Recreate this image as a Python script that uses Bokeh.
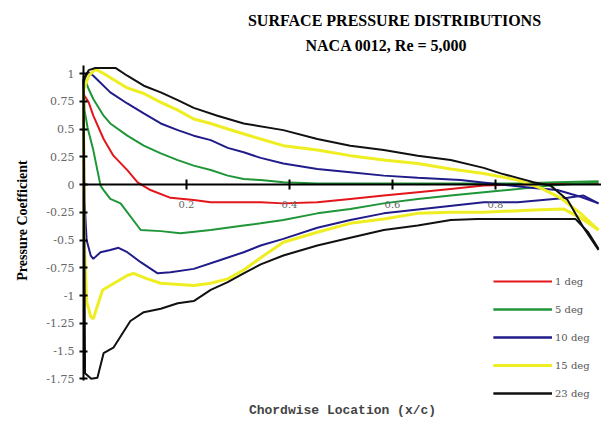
import math
from bokeh.plotting import figure
from bokeh.models import FixedTicker, Legend, LegendItem, Range1d, Label
from bokeh.embed import file_html
from bokeh.resources import INLINE

# ---------------- data ----------------
title_main = "SURFACE PRESSURE DISTRIBUTIONS"
title_sub = "NACA 0012, Re = 5,000"
x_title = "Chordwise Location (x/c)"
y_title = "Pressure Coefficient"

x_ticks = [0.2, 0.4, 0.6, 0.8]
x_tick_labels = ["0.2", "0.4", "0.6", "0.8"]
y_ticks = [1, 0.75, 0.5, 0.25, 0, -0.25, -0.5, -0.75, -1, -1.25, -1.5, -1.75]
y_tick_labels = ["1", "0.75", "0.5", "0.25", "0", "-0.25", "-0.5", "-0.75", "-1", "-1.25", "-1.5", "-1.75"]

series_names = ["1 deg", "5 deg", "10 deg", "15 deg", "23 deg"]

# 1 deg (both surfaces coincide)
red_x = [0.0, 0.002, 0.01, 0.019, 0.039, 0.058, 0.085, 0.105, 0.13, 0.169, 0.214, 0.247, 0.344, 0.388,
         0.454, 0.518, 0.583, 0.649, 0.713, 0.777, 0.849, 0.926, 1.0]
red_cp = [0.75, 0.80, 0.74, 0.62, 0.41, 0.26, 0.13, 0.02, -0.05, -0.12, -0.14, -0.16, -0.16, -0.17,
          -0.16, -0.13, -0.10, -0.07, -0.04, -0.01, 0.0, 0.01, 0.01]

# 5 deg
green_p_x = [0.0, 0.01, 0.019, 0.039, 0.052, 0.085, 0.117, 0.15, 0.183, 0.214, 0.247, 0.28, 0.311,
             0.344, 0.388, 0.454, 0.55, 0.65, 0.75, 0.843, 0.92, 1.0]
green_p_cp = [0.98, 0.86, 0.77, 0.62, 0.55, 0.44, 0.35, 0.28, 0.22, 0.17, 0.13, 0.08, 0.05,
              0.04, 0.02, 0.01, 0.01, 0.01, 0.01, 0.01, 0.02, 0.03]
green_s_x = [0.0, 0.002, 0.008, 0.019, 0.033, 0.039, 0.052, 0.072, 0.111, 0.15, 0.188, 0.247, 0.311,
             0.344, 0.388, 0.454, 0.518, 0.583, 0.649, 0.713, 0.777, 0.843, 0.907, 1.0]
green_s_cp = [0.98, 0.67, 0.51, 0.31, -0.01, -0.05, -0.13, -0.17, -0.41, -0.42, -0.44, -0.41, -0.37,
              -0.35, -0.32, -0.26, -0.22, -0.17, -0.13, -0.10, -0.07, -0.04, -0.01, 0.02]

# 10 deg
blue_p_x = [0.0, 0.01, 0.019, 0.052, 0.085, 0.117, 0.15, 0.183, 0.214, 0.247, 0.28, 0.311, 0.344,
            0.388, 0.454, 0.518, 0.583, 0.649, 0.732, 0.81, 0.868, 0.92, 0.965, 1.0]
blue_p_cp = [0.94, 1.01, 0.98, 0.83, 0.73, 0.64, 0.55, 0.49, 0.44, 0.40, 0.33, 0.29, 0.24,
             0.19, 0.14, 0.11, 0.08, 0.06, 0.04, 0.00, -0.03, -0.05, -0.11, -0.17]
blue_s_x = [0.0, 0.002, 0.006, 0.014, 0.019, 0.033, 0.052, 0.068, 0.085, 0.111, 0.144, 0.169, 0.214,
            0.266, 0.311, 0.344, 0.388, 0.454, 0.518, 0.583, 0.68, 0.777, 0.843, 0.94, 0.971, 1.0]
blue_s_cp = [0.94, -0.15, -0.50, -0.64, -0.67, -0.61, -0.59, -0.57, -0.61, -0.70, -0.80, -0.79, -0.76,
             -0.68, -0.61, -0.55, -0.49, -0.39, -0.32, -0.26, -0.21, -0.16, -0.16, -0.12, -0.10, -0.17]

# 15 deg
yellow_p_x = [0.0, 0.01, 0.023, 0.039, 0.085, 0.117, 0.15, 0.183, 0.214, 0.247, 0.28, 0.344, 0.388,
              0.454, 0.518, 0.583, 0.649, 0.713, 0.777, 0.843, 0.887, 0.926, 0.965, 1.0]
yellow_p_cp = [0.85, 0.98, 1.04, 1.00, 0.87, 0.82, 0.74, 0.67, 0.59, 0.55, 0.50, 0.41, 0.35,
               0.31, 0.26, 0.22, 0.19, 0.14, 0.10, 0.04, -0.03, -0.12, -0.26, -0.41]
yellow_s_x = [0.0, 0.001, 0.006, 0.014, 0.019, 0.037, 0.052, 0.085, 0.097, 0.124, 0.15, 0.214, 0.247,
              0.28, 0.311, 0.344, 0.388, 0.454, 0.518, 0.583, 0.649, 0.713, 0.777, 0.874, 0.932, 0.965, 1.0]
yellow_s_cp = [0.85, -0.44, -1.05, -1.19, -1.21, -0.95, -0.91, -0.82, -0.80, -0.85, -0.89, -0.91, -0.89,
               -0.85, -0.77, -0.66, -0.52, -0.43, -0.35, -0.31, -0.26, -0.25, -0.25, -0.23, -0.22, -0.30, -0.41]

# 23 deg
black_p_x = [0.0, 0.01, 0.023, 0.062, 0.085, 0.117, 0.15, 0.183, 0.214, 0.26, 0.311, 0.388, 0.454,
             0.518, 0.583, 0.649, 0.713, 0.777, 0.81, 0.843, 0.874, 0.907, 0.94, 0.971, 1.0]
black_p_cp = [0.95, 1.03, 1.05, 1.05, 0.98, 0.89, 0.83, 0.76, 0.69, 0.62, 0.55, 0.49, 0.41,
              0.35, 0.31, 0.26, 0.22, 0.15, 0.10, 0.06, 0.02, -0.01, -0.14, -0.39, -0.59]
black_s_x = [0.0, 0.003, 0.015, 0.027, 0.039, 0.058, 0.091, 0.117, 0.15, 0.183, 0.214, 0.247, 0.28,
             0.311, 0.344, 0.388, 0.454, 0.518, 0.583, 0.649, 0.713, 0.765, 0.887, 0.955, 0.98, 1.0]
black_s_cp = [0.95, -1.70, -1.75, -1.74, -1.52, -1.47, -1.23, -1.15, -1.12, -1.07, -1.05, -0.95, -0.88,
              -0.80, -0.72, -0.64, -0.55, -0.48, -0.41, -0.37, -0.32, -0.31, -0.31, -0.31, -0.43, -0.58]

# ---------------- figure ----------------
W, H = 601, 422

p = figure(width=W, height=H, output_backend="svg", toolbar_location=None, title=None,
           x_range=Range1d(-0.1612, 1.0058), y_range=Range1d(-2.1441, 1.6577),
           min_border_left=0, min_border_right=0, min_border_top=0, min_border_bottom=0)
p.grid.visible = False
p.outline_line_color = None
p.background_fill_color = "white"
p.border_fill_color = "white"

xa = p.xaxis[0]
xa.fixed_location = 0
xa.ticker = FixedTicker(ticks=x_ticks)
xa.major_label_overrides = {t: s for t, s in zip(x_ticks, x_tick_labels)}
xa.bounds = (0, 1.006)
xa.axis_line_width = 2
xa.axis_line_color = "black"
xa.major_tick_in = 5
xa.major_tick_out = 5
xa.major_tick_line_width = 2
xa.minor_tick_line_color = None
xa.major_label_standoff = 11
xa.major_label_text_font = "DejaVu Serif"
xa.major_label_text_font_size = "10px"
xa.major_label_text_color = "#666666"

ya = p.yaxis[0]
ya.fixed_location = 0
ya.ticker = FixedTicker(ticks=y_ticks)
ya.major_label_overrides = {t: s for t, s in zip(y_ticks, y_tick_labels)}
ya.bounds = (-1.77, 1.07)
ya.axis_line_width = 2
ya.axis_line_color = "black"
ya.major_tick_in = 4
ya.major_tick_out = 4
ya.major_tick_line_width = 2
ya.minor_tick_line_color = None
ya.major_label_standoff = 5
ya.major_label_text_font = "DejaVu Serif"
ya.major_label_text_font_size = "11px"
ya.major_label_text_color = "#666666"

colors = ["#e3161b", "#1f9638", "#211c8a", "#eeee22", "#111111"]
widths = [2, 2, 2, 3, 2]
curves = [
    [(red_x, red_cp)],
    [(green_p_x, green_p_cp), (green_s_x, green_s_cp)],
    [(blue_p_x, blue_p_cp), (blue_s_x, blue_s_cp)],
    [(yellow_p_x, yellow_p_cp), (yellow_s_x, yellow_s_cp)],
    [(black_p_x, black_p_cp), (black_s_x, black_s_cp)],
]

items = []
for name, col, w, surfaces in zip(series_names, colors, widths, curves):
    rs = [p.line(xs, ys, line_color=col, line_width=w) for xs, ys in surfaces]
    items.append(LegendItem(label=name, renderers=rs))

legend = Legend(items=items, location=(493, 19), background_fill_alpha=0, border_line_color=None,
                glyph_width=59, glyph_height=20, spacing=8, padding=0, margin=0, label_standoff=3,
                label_text_font="DejaVu Serif", label_text_font_size="10px",
                label_text_color="#555555", label_height=20)
p.add_layout(legend)

def add_text(text, px, py, size, style="bold", color="black", font="Liberation Serif", angle=0.0):
    p.add_layout(Label(x=px, y=H - py, x_units="screen", y_units="screen", text=text,
                       text_align="center", text_baseline="middle", text_font=font,
                       text_font_size=size, text_font_style=style, text_color=color, angle=angle))

add_text(title_main, 394, 20, "16px")
add_text(title_sub, 386, 45, "16px")
add_text(y_title, 22, 220, "14px", angle=math.pi / 2)
add_text(x_title, 342, 410, "13px", color="#444444", font="Liberation Mono")

open("out.html", "w").write(file_html(p, INLINE))
